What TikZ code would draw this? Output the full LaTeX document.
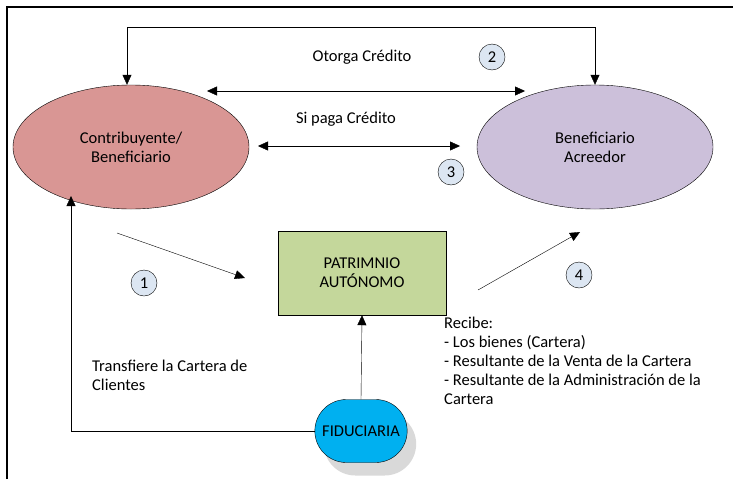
\documentclass[tikz,border=0pt]{standalone}
\usepackage{fontspec}
\setmainfont{Carlito}
\usetikzlibrary{arrows.meta,shapes.geometric,shapes.misc,shadows}
\definecolor{rosa}{RGB}{217,150,148}
\definecolor{lila}{RGB}{204,192,218}
\definecolor{verde}{RGB}{196,215,155}
\definecolor{celeste}{RGB}{0,176,240}
\definecolor{circulo}{RGB}{220,230,242}
\begin{document}
\begin{tikzpicture}[x=1pt, y=-1pt,
    every node/.style={font=\fontsize{16.5}{19}\selectfont},
    flecha/.style={-{Triangle[length=10pt,width=9pt]}},
    doble/.style={{Triangle[length=10pt,width=9pt]}-{Triangle[length=10pt,width=9pt]}},
    actor/.style={ellipse, draw, minimum width=236pt, minimum height=124pt, align=center},
    paso/.style={circle, draw, fill=circulo, minimum size=26pt, inner sep=0pt}]
    \useasboundingbox (0,0) rectangle (735,479);
    % Marco
    \draw[line width=2pt] (7,479) -- (7,7) -- (733,7);

    % Actores
    \node[actor, fill=rosa] (contrib) at (131,147) {Contribuyente/\\Beneficiario}; % Contribuyente
    \node[actor, fill=lila] (acreedor) at (595,147) {Beneficiario\\Acreedor}; % Acreedor
    \node[draw, fill=verde, minimum width=168pt, minimum height=84pt, align=center] (patrimonio) at (362,273) {PATRIMNIO\\AUTÓNOMO}; % Patrimonio
    \node[rounded rectangle, draw, fill=celeste, minimum width=99pt, minimum height=63pt,
          drop shadow={shadow xshift=9pt, shadow yshift=-13pt, fill=black!15, opacity=1}] (fiduciaria) at (361,431) {FIDUCIARIA}; % Fiduciaria

    % Puntos libres de las flechas
    \coordinate (otorgaA) at (207,91);
    \coordinate (otorgaB) at (525,91);
    \coordinate (pagaA) at (258,146);
    \coordinate (pagaB) at (460,146);
    \coordinate (unoA) at (117,233);
    \coordinate (unoB) at (245,278);
    \coordinate (cuatroA) at (478,290);
    \coordinate (cuatroB) at (580,232);
    \coordinate (transfiere) at (71,196);

    % Flechas
    \draw[doble] ([xshift=-4pt]contrib.north) -- ++(0,-58) -| (acreedor.north); % Arriba
    \draw[doble] (otorgaA) -- (otorgaB); % Otorga
    \draw[doble] (pagaA) -- (pagaB); % Si paga
    \draw[flecha] (unoA) -- (unoB); % Paso 1
    \draw[flecha] (cuatroA) -- (cuatroB); % Paso 4
    \draw[flecha] (fiduciaria.north) -- (patrimonio.south); % Fiduciaria al patrimonio
    \draw[flecha] (fiduciaria.west) -| (transfiere); % Transferencia

    % Pasos
    \node[paso] (p1) at (144,283) {1};
    \node[paso] (p2) at (492,57) {2};
    \node[paso] (p3) at (451,172) {3};
    \node[paso] (p4) at (579,275) {4};

    % Textos
    \node (otorga) at (362,57) {Otorga Crédito};
    \node (paga) at (346,119) {Si paga Crédito};
    \node[anchor=north west, inner sep=0pt, align=left] (cartera) at (92,360) {Transfiere la Cartera de\\Clientes};
    \node[anchor=north west, inner sep=0pt, align=left] (recibe) at (444,317) {Recibe:\\- Los bienes (Cartera)\\- Resultante de la Venta de la Cartera\\- Resultante de la Administración de la\\Cartera};
\end{tikzpicture}
\end{document}
